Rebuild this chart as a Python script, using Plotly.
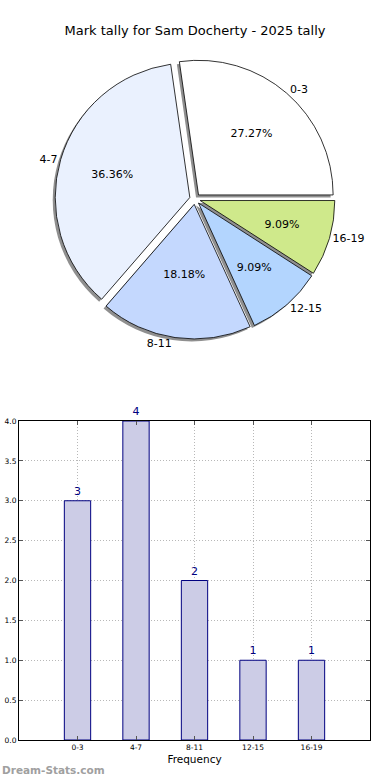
import plotly.graph_objects as go

categories = ["0-3", "4-7", "8-11", "12-15", "16-19"]
counts = [3, 4, 2, 1, 1]
pie_colors = ["#ffffff", "#eaf1fe", "#c4d8fe", "#b3d5fe", "#cfe98b"]
y_ticks = [0.0, 0.5, 1.0, 1.5, 2.0, 2.5, 3.0, 3.5, 4.0]
title_text = "Mark tally for Sam Docherty - 2025 tally"

W, H = 390, 780
FONT = "DejaVu Sans"

pull = 0.04
cx, cy, half = 195, 199, 140


def dom(h, dx=0.0, dy=0.0):
    return dict(x=[(cx + dx - h) / W, (cx + dx + h) / W],
                y=[1 - (cy + dy + h) / H, 1 - (cy + dy - h) / H])


# first slice starts at 3 o'clock and runs counterclockwise (plotly anchors the end of slice 1)
rot = 90 - 360.0 * counts[0] / sum(counts)
total = sum(counts)
share = [c / total for c in counts]

common = dict(labels=categories, values=counts, sort=False, direction="counterclockwise",
              rotation=rot, pull=[pull] * len(counts), showlegend=False)
clear = ["rgba(0,0,0,0)"] * len(counts)

fig = go.Figure()
# shadow
fig.add_trace(go.Pie(**common, domain=dom(half, -2.5, 2.5),
                     marker=dict(colors=["#8f8f8f"] * len(counts), line=dict(width=0)),
                     textinfo="none", hoverinfo="skip"))
# main pie
fig.add_trace(go.Pie(**common, domain=dom(half),
                     marker=dict(colors=pie_colors, line=dict(color="black", width=0.8)),
                     textinfo="none"))
# outside labels
fig.add_trace(go.Pie(**common, domain=dom(half),
                     marker=dict(colors=clear, line=dict(width=0)),
                     texttemplate="%{label}", textposition="outside",
                     outsidetextfont=dict(family=FONT, size=11, color="black"),
                     hoverinfo="skip"))
# percentage labels: wide slices on a full-size transparent ring,
# narrow slices on a smaller ring so the text sits near 0.6 of the radius
fig.add_trace(go.Pie(**common, domain=dom(half), hole=0.2,
                     marker=dict(colors=clear, line=dict(width=0)),
                     texttemplate=["%{percent:.2%}" if s > 0.25 else "" for s in share],
                     textposition="inside", insidetextorientation="horizontal",
                     insidetextfont=dict(family=FONT, size=11, color="black"),
                     hoverinfo="skip"))
fig.add_trace(go.Pie(**common, domain=dom(half * 0.82), hole=0.2,
                     marker=dict(colors=clear, line=dict(width=0)),
                     texttemplate=["%{percent:.2%}" if s <= 0.25 else "" for s in share],
                     textposition="inside", insidetextorientation="horizontal",
                     insidetextfont=dict(family=FONT, size=11, color="black"),
                     hoverinfo="skip"))

# bar chart
fig.add_trace(go.Bar(x=categories, y=counts, width=0.45,
                     marker=dict(color="#ccccE6", line=dict(color="#000080", width=1)),
                     text=[str(c) for c in counts], textposition="outside",
                     textfont=dict(family=FONT, size=11, color="#000080"),
                     cliponaxis=False, showlegend=False))

axis_common = dict(showline=True, mirror="allticks", linecolor="black", linewidth=1,
                   ticks="inside", ticklen=4, tickcolor="#555",
                   showgrid=True, gridcolor="#b8b8b8", griddash="1px,2px", gridwidth=1,
                   tickfont=dict(family=FONT, size=7.5, color="black"),
                   zeroline=False, fixedrange=True, automargin=False)

fig.update_layout(
    template="none",
    width=W, height=H,
    margin=dict(l=0, r=0, t=0, b=0, pad=0),
    paper_bgcolor="white", plot_bgcolor="white",
    font=dict(family=FONT, color="black"),
    title=dict(text=title_text, x=0.5, xanchor="center", xref="paper",
               y=1 - 30 / H, yanchor="middle", yref="container",
               font=dict(family=FONT, size=13, color="black")),
    xaxis=dict(domain=[19 / W, 370 / W], type="category", range=[-1, 5],
               title=dict(text="Frequency", font=dict(family=FONT, size=10.5, color="black"),
                          standoff=4),
               **axis_common),
    yaxis=dict(domain=[1 - 740 / H, 1 - 421 / H], range=[0, 4], tickvals=y_ticks,
               tickformat=".1f", **axis_common),
    annotations=[dict(text="<b>Dream-Stats.com</b>", xref="paper", yref="paper",
                      x=0, y=1 - 770 / H, xanchor="left", yanchor="middle", showarrow=False,
                      font=dict(family=FONT, size=10.5, color="#a0a0a0"))],
)

fig.write_html("out.html", config={"displayModeBar": False},
               post_script="document.body.style.margin='0';document.body.style.overflow='hidden';")
